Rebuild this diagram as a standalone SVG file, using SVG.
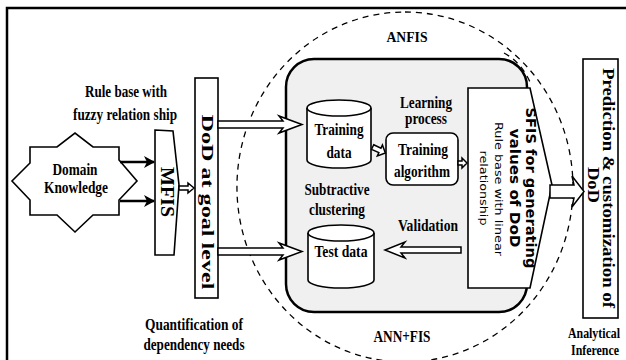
<svg xmlns="http://www.w3.org/2000/svg" width="626" height="360" viewBox="0 0 626 360">
<style>
.s{font-family:"Liberation Serif","Times New Roman",serif;font-weight:bold;fill:#000;text-anchor:middle}
.ss{font-family:"DejaVu Sans","Liberation Sans",sans-serif;fill:#000;text-anchor:middle}
.box{fill:#fff;stroke:#000;stroke-width:1.6}
.harrow{fill:#fff;stroke:#000;stroke-width:1.5;stroke-linejoin:miter}
.dash{fill:none;stroke:#000;stroke-width:1.3;stroke-dasharray:6 5}
</style>
<defs>
<marker id="ah" markerUnits="userSpaceOnUse" markerWidth="12" markerHeight="14" refX="10" refY="7" orient="auto">
<path d="M0,1 L11,7 L0,13 L3,7 z" fill="#000"/>
</marker>
</defs>
<rect width="626" height="360" fill="#fff"/>
<rect x="7" y="8" width="640" height="400" fill="none" stroke="#000" stroke-width="2.5"/>

<g id="domain">
<polygon class="box" points="30,147 57,147 75,133 93,147 119,147 119,160 137,181 119,200 119,215 93,215 75,232 57,215 30,215 30,200 12,181 30,163"/>
<text class="s" x="75" y="175" font-size="17" textLength="45" lengthAdjust="spacingAndGlyphs">Domain</text>
<text class="s" x="76" y="193" font-size="17" textLength="64" lengthAdjust="spacingAndGlyphs">Knowledge</text>
</g>

<g id="rulebase-label">
<text class="s" x="126" y="97" font-size="16" textLength="82" lengthAdjust="spacingAndGlyphs">Rule base with</text>
<text class="s" x="125" y="120" font-size="16" textLength="104" lengthAdjust="spacingAndGlyphs">fuzzy relation ship</text>
</g>

<g id="mfis">
<polygon class="box" points="155,130 173,131 179,185 174,255 155,255"/>
<text class="s" font-size="19" textLength="50" lengthAdjust="spacingAndGlyphs" transform="translate(161,192) rotate(90)">MFIS</text>
</g>

<g id="dod-goal">
<rect class="box" x="195" y="78" width="23" height="220"/>
<text class="s" font-size="17" textLength="175" lengthAdjust="spacingAndGlyphs" transform="translate(202,202) rotate(90)">DoD at goal level</text>
</g>

<g id="quant-label">
<text class="s" x="194" y="330" font-size="16" textLength="98" lengthAdjust="spacingAndGlyphs">Quantification of</text>
<text class="s" x="194" y="350" font-size="16" textLength="101" lengthAdjust="spacingAndGlyphs">dependency needs</text>
</g>

<g id="anfis-region">
<path class="dash" d="M405,12 A168,175 0 1 1 404.9,12 Z"/>
<path class="dash" d="M504,53 Q521,62 530,82"/>
<text class="s" x="407" y="42" font-size="15" textLength="41" lengthAdjust="spacingAndGlyphs">ANFIS</text>
<text class="s" x="402" y="342" font-size="17" textLength="57" lengthAdjust="spacingAndGlyphs">ANN+FIS</text>
</g>

<g id="ann-box">
<rect x="286" y="59" width="241" height="253" rx="28" ry="28" fill="#f0f0f0" stroke="#000" stroke-width="2.5"/>
</g>

<g id="training-data">
<path class="box" d="M307,108 L307,160 A32,8 0 0 0 371,160 L371,108 A32,8 0 0 0 307,108 Z"/>
<path d="M307,108 A32,8 0 0 0 371,108" fill="none" stroke="#000" stroke-width="1.6"/>
<text class="s" x="339" y="135" font-size="17" textLength="49" lengthAdjust="spacingAndGlyphs">Training</text>
<text class="s" x="339" y="158" font-size="17" textLength="25" lengthAdjust="spacingAndGlyphs">data</text>
</g>

<g id="test-data">
<path class="box" d="M308,233 L308,280 A33,8 0 0 0 374,280 L374,233 A33,8 0 0 0 308,233 Z"/>
<path d="M308,233 A33,8 0 0 0 374,233" fill="none" stroke="#000" stroke-width="1.6"/>
<text class="s" x="341" y="257" font-size="16" textLength="53" lengthAdjust="spacingAndGlyphs">Test data</text>
</g>

<g id="subtractive-label">
<text class="s" x="337" y="195" font-size="16" textLength="65" lengthAdjust="spacingAndGlyphs">Subtractive</text>
<text class="s" x="337" y="215" font-size="16" textLength="56" lengthAdjust="spacingAndGlyphs">clustering</text>
</g>

<g id="learning-label">
<text class="s" x="426" y="108" font-size="16" textLength="52" lengthAdjust="spacingAndGlyphs">Learning</text>
<text class="s" x="426" y="124" font-size="16" textLength="42" lengthAdjust="spacingAndGlyphs">process</text>
</g>

<g id="training-algorithm">
<rect class="box" x="386" y="133" width="72" height="52" rx="7" ry="7"/>
<text class="s" x="423" y="155" font-size="17" textLength="50" lengthAdjust="spacingAndGlyphs">Training</text>
<text class="s" x="422" y="177" font-size="17" textLength="56" lengthAdjust="spacingAndGlyphs">algorithm</text>
</g>

<g id="validation-label">
<text class="s" x="428" y="231" font-size="16" textLength="60" lengthAdjust="spacingAndGlyphs">Validation</text>
</g>

<g id="sfis">
<polygon class="box" points="468,88 530,88 552,185 530,288 468,288"/>
<text class="ss" font-size="14" font-weight="bold" textLength="161" lengthAdjust="spacingAndGlyphs" transform="translate(526,188) rotate(90)">SFIS for generating</text>
<text class="ss" font-size="14" font-weight="bold" textLength="119" lengthAdjust="spacingAndGlyphs" transform="translate(510,188) rotate(90)">values of DoD</text>
<text class="ss" font-size="11" textLength="134" lengthAdjust="spacingAndGlyphs" transform="translate(495,189) rotate(90)">Rule base with linear</text>
<text class="ss" font-size="11" textLength="75" lengthAdjust="spacingAndGlyphs" transform="translate(480,188) rotate(90)">relationship</text>
</g>

<g id="prediction">
<rect class="box" x="583" y="59" width="35" height="259"/>
<text class="s" font-size="17" textLength="240" lengthAdjust="spacingAndGlyphs" transform="translate(603,188) rotate(90)">Prediction &amp; customization of</text>
<text class="s" font-size="17" textLength="36" lengthAdjust="spacingAndGlyphs" transform="translate(588,185) rotate(90)">DoD</text>
</g>

<g id="inference-label">
<text class="s" x="594" y="338" font-size="15" textLength="52" lengthAdjust="spacingAndGlyphs">Analytical</text>
<text class="s" x="595" y="355" font-size="15" textLength="48" lengthAdjust="spacingAndGlyphs">Inference</text>
</g>

<g id="connectors">
<line x1="120" y1="162" x2="154" y2="162" stroke="#000" stroke-width="2.5" marker-end="url(#ah)"/>
<line x1="120" y1="201" x2="154" y2="201" stroke="#000" stroke-width="2.5" marker-end="url(#ah)"/>
<polygon class="harrow" points="179,186 188,186 188,183 194,188 188,193 188,190 179,190"/>
<polygon class="harrow" points="218,121 283,121 279,116 302,124.5 279,133 283,128 218,128"/>
<polygon class="harrow" points="218,248 283,248 279,243 302,251.5 279,260 283,255 218,255"/>
<polygon class="harrow" transform="translate(379,150) rotate(25)" points="-7,-2.5 1,-2.5 1,-6 7,0 1,6 1,2.5 -7,2.5"/>
<polygon class="harrow" points="458,161 462,161 462,158 467,163 462,168 462,165 458,165"/>
<polygon class="harrow" points="461,247 401,247 405,242 385,250 405,258 401,253 461,253"/>
<polygon class="harrow" points="550,185 574,185 572,176 584,191.5 572,207 574,198 550,198"/>
</g>
</svg>
